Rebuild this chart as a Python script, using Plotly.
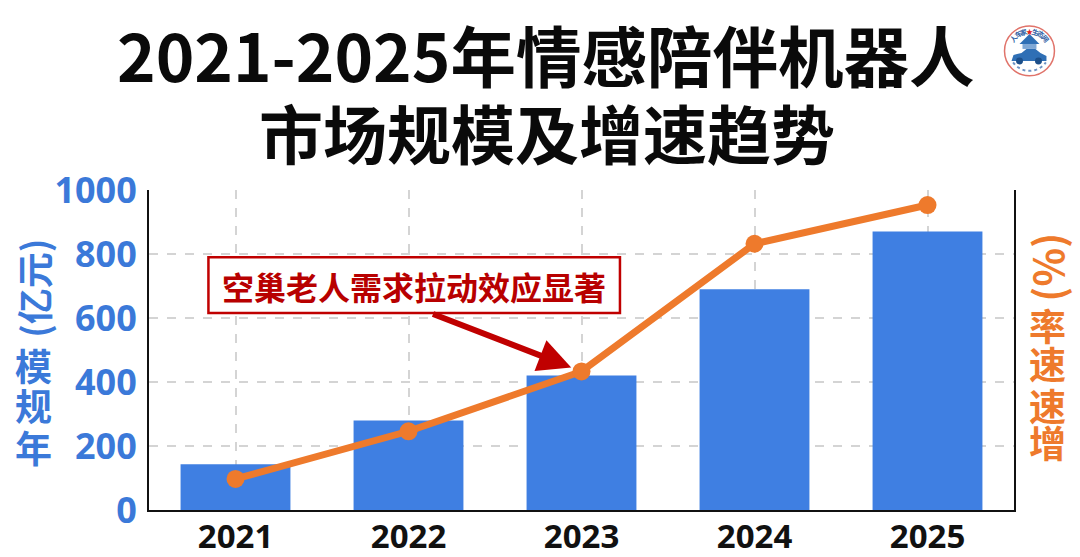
import math
import plotly.graph_objects as go

years = ["2021", "2022", "2023", "2024", "2025"]
market_size = [143, 280, 420, 690, 870]
growth_curve = [97, 246, 433, 832, 953]
y_ticks = [0, 200, 400, 600, 800, 1000]
title_lines = ["2021-2025年情感陪伴机器人", "市场规模及增速趋势"]
callout = "空巢老人需求拉动效应显著"
left_glyphs = ["年", "规", "模"]
right_glyphs = ["增", "速", "速", "率"]
logo_glyphs = ["人", "车", "家", "★", "生", "态", "网"]

W, H = 1080, 557
L, R, T, B = 148.5, 1014.5, 189.5, 510.5
CJK = "Noto Sans CJK SC"
BLUE, ORANGE, RED = "#3b79d9", "#ee7a2c", "#c00000"
GRID = "#d4d4d4"

def px(x): return (x - L) / (R - L)
def py(y): return (B - y) / (B - T)

fig = go.Figure()
fig.add_trace(go.Bar(x=years, y=market_size, marker_color="#3f7fe2", width=0.635,
                     marker_line_width=0, yaxis="y"))
fig.add_trace(go.Scatter(x=years, y=growth_curve, mode="lines+markers", yaxis="y2",
                         line=dict(color=ORANGE, width=7),
                         marker=dict(color=ORANGE, size=18)))

def text(s, x, y, size, color, angle=0, bold=True):
    fig.add_annotation(text=f"<b>{s}</b>" if bold else s, xref="paper", yref="paper",
                       x=px(x), y=py(y), xanchor="center", yanchor="middle",
                       showarrow=False, textangle=angle,
                       font=dict(family=CJK, size=size, color=color))

text(title_lines[0], 545, 53, 65.5, "#0a0a0a")
text(title_lines[1], 547, 130, 64, "#0a0a0a")

# left axis title: stacked upright glyphs plus a rotated unit
for g, y in zip(left_glyphs, [447, 405, 365]):
    text(g, 33, y, 37, BLUE)
text("(亿元)", 33, 288, 36, BLUE, angle=-90)

# right axis title
for g, y in zip(right_glyphs, [442, 405, 363, 325]):
    text(g, 1048, y, 37, ORANGE)
text("(%)", 1048, 267, 40, ORANGE, angle=-90)

# callout box, then its text, then the arrow to the 2023 point
fig.add_shape(type="rect", xref="paper", yref="paper", x0=px(208), x1=px(620), y0=py(313), y1=py(257),
              fillcolor="white", line=dict(color=RED, width=2.5), layer="above")
text(callout, 414, 286, 32, "#b80000")
fig.add_annotation(x=years.index("2023"), y=growth_curve[2], xref="x", yref="y2", axref="pixel", ayref="pixel",
                   ax=-150, ay=-58, text="", showarrow=True, arrowhead=2, arrowsize=1.1,
                   arrowwidth=6, arrowcolor=RED, standoff=11)

# logo
def circle(cx, cy, r, **kw):
    fig.add_shape(type="circle", xref="paper", yref="paper", x0=px(cx - r), x1=px(cx + r),
                  y0=py(cy + r), y1=py(cy - r), **kw)
def poly(pts, **kw):
    d = "M " + " L ".join(f"{px(a)} {py(b)}" for a, b in pts)
    fig.add_shape(type="path", xref="paper", yref="paper", path=d, **kw)
circle(1030, 50, 25, line=dict(color="#e0736a", width=1.5), fillcolor="white")
poly([(1012, 60), (1014, 54), (1022, 52), (1027, 48), (1036, 48), (1041, 52), (1047, 55), (1047, 60)],
     fillcolor="#2f6fb5", line_width=0)
poly([(1020, 43), (1030, 33), (1040, 43)], fillcolor="#2f6fb5", line_width=0)
poly([(1023, 43), (1037, 43), (1037, 48), (1023, 48)], fillcolor="#7fa8d6", line_width=0)
circle(1020, 60, 3.5, line_width=0, fillcolor="#1c4f8a")
circle(1039, 60, 3.5, line_width=0, fillcolor="#1c4f8a")
poly([(1030 + 20 * math.sin(math.radians(a)), 50 + 20 * math.cos(math.radians(a)))
      for a in range(-55, 56, 5)], line=dict(color="#6f93c4", width=2, dash="dot"))
for i, g in enumerate(logo_glyphs):
    a = (i - 3) * 17
    gx = 1030 + 20 * math.sin(math.radians(a))
    gy = 50 - 20 * math.cos(math.radians(a))
    fig.add_annotation(text=f"<b>{g}</b>", xref="paper", yref="paper", x=px(gx), y=py(gy),
                       xanchor="center", yanchor="middle", showarrow=False, textangle=a,
                       font=dict(family=CJK, size=7, color="#d22" if g == "★" else "#2f5fa5"))

fig.update_layout(
    width=W, height=H, margin=dict(l=L, r=W - R, t=T, b=H - B, pad=0),
    paper_bgcolor="white", plot_bgcolor="white", showlegend=False,
    xaxis=dict(type="category", categoryorder="array", categoryarray=years, range=[-0.5, 4.5],
               automargin=False, showgrid=True,
               gridcolor=GRID, griddash="dash", gridwidth=2, showline=True, linecolor="#111",
               linewidth=2, ticks="", ticklen=0, ticklabelstandoff=-4,
               tickfont=dict(family="Noto Sans", size=33, color="#111", weight="bold")),
    yaxis=dict(range=[0, 1000], tickvals=y_ticks, showgrid=True, gridcolor=GRID, griddash="dash",
               automargin=False, gridwidth=2, zeroline=False, showline=True, linecolor="#111", linewidth=2,
               ticks="", ticklabelstandoff=3,
               tickfont=dict(family="Noto Sans", size=36, color=BLUE, weight="bold")),
    yaxis2=dict(range=[0, 1000], overlaying="y", side="right", showgrid=False, zeroline=False,
                automargin=False, showticklabels=False, ticks="", showline=True, linecolor="#111", linewidth=2),
)
fig.write_html("out.html", config=dict(displayModeBar=False), post_script="document.body.style.margin='0';")
